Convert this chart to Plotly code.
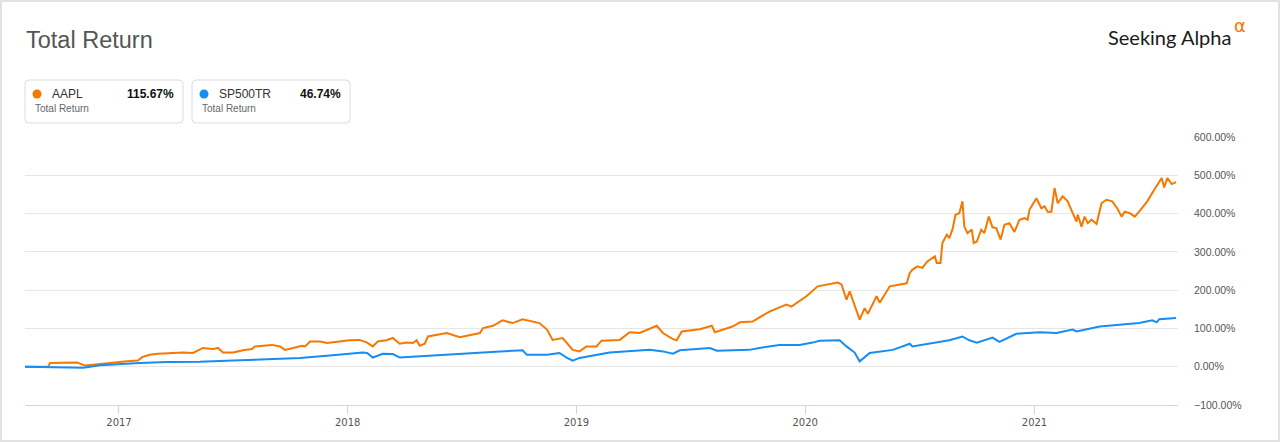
import plotly.graph_objects as go

# ---- data (total return, %) ----
aapl_dates = [
    "2016-08-04", "2016-09-10", "2016-09-13", "2016-10-26", "2016-11-08", "2016-12-02",
    "2016-12-18", "2017-01-14", "2017-01-31", "2017-02-07", "2017-02-19", "2017-03-04",
    "2017-03-28", "2017-04-13", "2017-04-29", "2017-05-07", "2017-05-15", "2017-05-31",
    "2017-06-08", "2017-06-16", "2017-07-02", "2017-07-18", "2017-08-01", "2017-08-06",
    "2017-08-19", "2017-09-02", "2017-09-15", "2017-09-23", "2017-10-06", "2017-10-20",
    "2017-10-25", "2017-11-02", "2017-11-18", "2017-11-29", "2017-12-19", "2018-01-04",
    "2018-01-20", "2018-02-01", "2018-02-10", "2018-02-18", "2018-03-04", "2018-03-14",
    "2018-03-25", "2018-04-05", "2018-04-15", "2018-04-21", "2018-04-26", "2018-05-04",
    "2018-05-09", "2018-06-08", "2018-06-29", "2018-07-31", "2018-08-05", "2018-08-21",
    "2018-09-05", "2018-09-21", "2018-10-07", "2018-11-03", "2018-11-15", "2018-11-24",
    "2018-12-10", "2018-12-26", "2019-01-06", "2019-01-17", "2019-02-02", "2019-02-10",
    "2019-03-11", "2019-03-27", "2019-04-12", "2019-05-03", "2019-05-09", "2019-05-19",
    "2019-06-04", "2019-06-10", "2019-06-18", "2019-07-17", "2019-08-05", "2019-08-10",
    "2019-09-07", "2019-09-19", "2019-10-09", "2019-11-05", "2019-12-02", "2019-12-10",
    "2020-01-03", "2020-01-21", "2020-02-04", "2020-02-22", "2020-02-28", "2020-03-07",
    "2020-03-12", "2020-03-20", "2020-03-28", "2020-04-05", "2020-04-10", "2020-04-24",
    "2020-04-29", "2020-05-15", "2020-06-11", "2020-06-16", "2020-06-20", "2020-06-28",
    "2020-07-06", "2020-07-14", "2020-07-26", "2020-07-29", "2020-08-04", "2020-08-07",
    "2020-08-14", "2020-08-18", "2020-08-23", "2020-08-28", "2020-09-03", "2020-09-08",
    "2020-09-11", "2020-09-16", "2020-09-23", "2020-09-26", "2020-10-01", "2020-10-08",
    "2020-10-13", "2020-10-20", "2020-10-26", "2020-11-01", "2020-11-08", "2020-11-14",
    "2020-11-22", "2020-11-30", "2020-12-08", "2020-12-16", "2020-12-21", "2020-12-24",
    "2021-01-04", "2021-01-12", "2021-01-17", "2021-01-22", "2021-01-28", "2021-02-02",
    "2021-02-07", "2021-02-15", "2021-02-23", "2021-03-03", "2021-03-09", "2021-03-11",
    "2021-03-17", "2021-03-22", "2021-03-27", "2021-04-02", "2021-04-10", "2021-04-18",
    "2021-04-26", "2021-05-05", "2021-05-13", "2021-05-20", "2021-05-25", "2021-06-02",
    "2021-06-10", "2021-06-17", "2021-06-30", "2021-07-11", "2021-07-23", "2021-07-27",
    "2021-08-01", "2021-08-08", "2021-08-15",
]
aapl_values = [
    0, 0, 10, 11, 3, 7,
    11, 14, 16, 25, 31, 34,
    36, 37, 36, 43, 49, 46,
    49, 37, 37, 43, 46, 53,
    55, 57, 53, 44, 49, 55,
    53, 66, 66, 62, 66, 69,
    70, 63, 53, 66, 69, 75,
    60, 63, 62, 69, 55, 60,
    79, 88, 77, 88, 101, 107,
    121, 114, 124, 114, 97, 70,
    75, 44, 40, 53, 53, 68,
    70, 90, 88, 104, 107, 88,
    72, 69, 92, 98, 107, 90,
    105, 116, 118, 144, 162, 157,
    184, 210, 214, 220, 215, 175,
    197, 157, 123, 153, 138, 184,
    167, 210, 218, 245, 253, 262,
    258, 275, 288, 271, 271, 323,
    345, 336, 358, 397, 401, 432,
    366, 349, 358, 323, 327, 358,
    349, 392, 364, 362, 332, 371,
    375, 352, 384, 388, 384, 410,
    440, 414, 419, 405, 405, 467,
    427, 445, 432, 401, 379, 397,
    366, 392, 375, 384, 373, 427,
    436, 432, 414, 392, 405, 401,
    392, 405, 432, 462, 493, 468,
    493, 477, 482,
]

spx_dates = [
    "2016-08-04", "2016-09-13", "2016-11-05", "2016-12-02", "2017-02-03", "2017-03-19",
    "2017-05-10", "2017-07-02", "2017-08-25", "2017-10-17", "2017-12-08", "2018-01-25",
    "2018-02-01", "2018-02-10", "2018-02-26", "2018-03-14", "2018-03-25", "2018-04-21",
    "2018-05-12", "2018-06-29", "2018-09-01", "2018-10-07", "2018-10-14", "2018-11-15",
    "2018-12-05", "2018-12-17", "2018-12-26", "2019-01-06", "2019-02-23", "2019-04-28",
    "2019-05-19", "2019-06-04", "2019-06-15", "2019-08-02", "2019-08-13", "2019-10-04",
    "2019-10-20", "2019-11-21", "2019-12-23", "2020-01-13", "2020-01-24", "2020-02-25",
    "2020-03-07", "2020-03-20", "2020-03-28", "2020-04-13", "2020-05-20", "2020-06-16",
    "2020-06-20", "2020-08-18", "2020-09-08", "2020-09-19", "2020-10-01", "2020-10-26",
    "2020-11-06", "2020-12-03", "2021-01-09", "2021-02-05", "2021-03-03", "2021-03-09",
    "2021-04-15", "2021-05-21", "2021-06-17", "2021-07-08", "2021-07-15", "2021-07-19",
    "2021-08-15",
]
spx_values = [
    0, -2, -3, 4, 10, 12,
    13, 16, 20, 23, 30, 37,
    36, 24, 34, 33, 24, 27,
    29, 34, 40, 43, 31, 31,
    36, 23, 16, 23, 37, 44,
    40, 34, 43, 49, 42, 44,
    49, 57, 57, 63, 68, 69,
    53, 37, 14, 36, 44, 60,
    53, 69, 79, 69, 63, 76,
    65, 86, 90, 88, 97, 92,
    105, 110, 114, 121, 116, 124,
    127,
]

series_names = ["AAPL", "SP500TR"]
series_colors = ["#f77800", "#168df2"]
legend_returns = ["115.67%", "46.74%"]
legend_sub = "Total Return"

W, H = 1280, 442
L, R, T, B = 25, 102, 137, 37


def px(x):
    # page pixel -> paper x
    return (x - L) / (W - L - R)


def py(y):
    # page pixel -> paper y
    return (H - B - y) / (H - T - B)


def rounded_box(x0, y0, x1, y1, r=4):
    return (
        f"M {px(x0 + r)},{py(y0)} L {px(x1 - r)},{py(y0)} "
        f"Q {px(x1)},{py(y0)} {px(x1)},{py(y0 + r)} L {px(x1)},{py(y1 - r)} "
        f"Q {px(x1)},{py(y1)} {px(x1 - r)},{py(y1)} L {px(x0 + r)},{py(y1)} "
        f"Q {px(x0)},{py(y1)} {px(x0)},{py(y1 - r)} L {px(x0)},{py(y0 + r)} "
        f"Q {px(x0)},{py(y0)} {px(x0 + r)},{py(y0)} Z"
    )


fig = go.Figure()
fig.add_trace(go.Scatter(x=aapl_dates, y=aapl_values, mode="lines", name=series_names[0],
                         line=dict(color=series_colors[0], width=2)))
fig.add_trace(go.Scatter(x=spx_dates, y=spx_values, mode="lines", name=series_names[1],
                         line=dict(color=series_colors[1], width=2)))

shapes = [
    # outer frame
    dict(type="rect", xref="paper", yref="paper", x0=px(1), x1=px(W - 1), y0=py(H - 1), y1=py(1),
         line=dict(color="#e2e2e2", width=2), layer="below"),
]
annotations = [
    dict(text="Total Return", x=px(24), y=py(40), xref="paper", yref="paper",
         xanchor="left", yanchor="middle", showarrow=False,
         font=dict(family="Liberation Sans, Arial", size=23.5, color="#555555")),
    dict(text="Seeking Alpha", x=px(1233), y=py(37), xref="paper", yref="paper",
         xanchor="right", yanchor="middle", showarrow=False,
         font=dict(family="Lato, Open Sans", size=20, color="#1a1a1a")),
    dict(text="α", x=px(1232), y=py(26), xref="paper", yref="paper",
         xanchor="left", yanchor="middle", showarrow=False,
         font=dict(family="DejaVu Sans", size=18, color="#ff7300")),
]

box_left = [25, 192]
for i, name in enumerate(series_names):
    x0 = box_left[i]
    x1 = x0 + 158
    shapes.append(dict(type="path", xref="paper", yref="paper", path=rounded_box(x0, 80, x1, 123),
                       line=dict(color="#dcdcdc", width=1), fillcolor="white"))
    shapes.append(dict(type="circle", xref="paper", yref="paper",
                       x0=px(x0 + 7.5), x1=px(x0 + 16.5), y0=py(98.5), y1=py(89.5),
                       line=dict(width=0), fillcolor=series_colors[i]))
    annotations.append(dict(text=name, x=px(x0 + 25), y=py(94), xref="paper", yref="paper",
                            xanchor="left", yanchor="middle", showarrow=False,
                            font=dict(family="Liberation Sans, Arial", size=12, color="#333333")))
    annotations.append(dict(text="<b>" + legend_returns[i] + "</b>", x=px(x1 - 7), y=py(94),
                            xref="paper", yref="paper", xanchor="right", yanchor="middle",
                            showarrow=False,
                            font=dict(family="Liberation Sans, Arial", size=12, color="#111111")))
    annotations.append(dict(text=legend_sub, x=px(x0 + 8), y=py(108), xref="paper", yref="paper",
                            xanchor="left", yanchor="middle", showarrow=False,
                            font=dict(family="Liberation Sans, Arial", size=10, color="#666666")))

fig.update_layout(
    width=W, height=H,
    margin=dict(l=L, r=R, t=T, b=B),
    paper_bgcolor="white", plot_bgcolor="white",
    showlegend=False,
    shapes=shapes,
    annotations=annotations,
    xaxis=dict(
        type="date", range=["2016-08-04", "2021-08-18"],
        dtick="M12", tick0="2017-01-01", tickformat="%Y",
        showgrid=False, zeroline=False,
        showline=True, linecolor="#ccd6eb", linewidth=1,
        ticks="outside", ticklen=8, tickcolor="#ccd6eb",
        tickfont=dict(family="DejaVu Sans", size=10, color="#555555"),
    ),
    yaxis=dict(
        range=[-100, 600], dtick=100, side="right",
        tickformat=".2f", ticksuffix="%",
        showgrid=True, gridcolor="#e6e6e6", gridwidth=1,
        zeroline=False, ticks="", ticklabelstandoff=15,
        tickfont=dict(family="Liberation Sans, Arial", size=10.5, color="#555555"),
    ),
)

fig.write_html("out.html", config={"displayModeBar": False},
               post_script="document.body.style.margin='0';")
